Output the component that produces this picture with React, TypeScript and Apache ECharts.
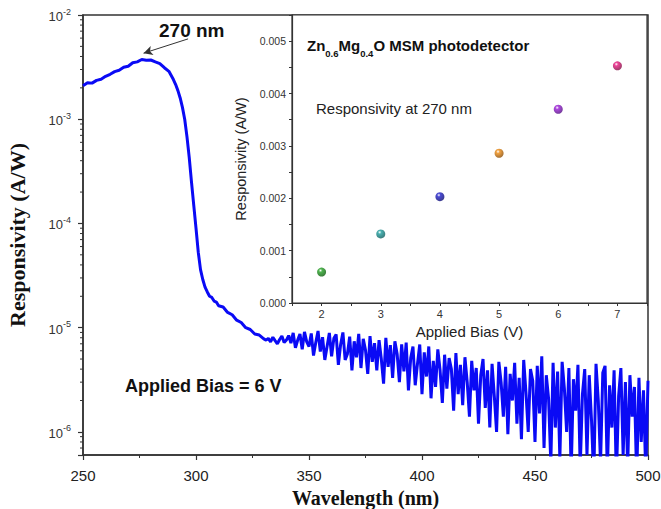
import React, { useEffect, useRef } from "react";
import * as echarts from "echarts";

// ---- Main spectrum (A/W vs nm) ----
const smoothWavelengths = [
  250, 252, 254, 256, 258, 260, 262, 264, 266, 268, 270, 272, 274, 276, 278, 280, 282, 284, 286, 288, 290,
  291, 292, 293, 294, 295, 296, 297, 298, 299, 300, 301, 302, 303, 304, 305, 306, 307, 308, 309, 310,
  312, 314, 316, 318, 320, 322, 324, 326, 328, 330,
];
const smoothResponsivity = [
  2.1e-3, 2.24e-3, 2.22e-3, 2.36e-3, 2.42e-3, 2.58e-3, 2.7e-3, 2.86e-3, 2.95e-3, 3.15e-3, 3.22e-3, 3.48e-3,
  3.55e-3, 3.74e-3, 3.68e-3, 3.7e-3, 3.55e-3, 3.42e-3, 3.12e-3, 2.88e-3, 2.4e-3,
  2.15e-3, 1.88e-3, 1.6e-3, 1.3e-3, 1.0e-3, 6.8e-4, 4.3e-4, 2.5e-4, 1.5e-4, 9.0e-5, 5.3e-5, 3.6e-5, 2.9e-5,
  2.45e-5, 2.2e-5, 2.0e-5, 1.95e-5, 1.8e-5, 1.76e-5, 1.62e-5,
  1.58e-5, 1.4e-5, 1.33e-5, 1.18e-5, 1.12e-5, 1.0e-5, 9.6e-6, 8.7e-6, 8.5e-6, 7.8e-6,
];
// noisy region: one value per nm starting at 331 nm
const noisyStartWavelength = 331;
const noisyResponsivity = [
  7.6e-6, 7.9e-6, 7.3e-6, 8.1e-6, 7.5e-6, 7.0e-6, 7.7e-6, 8.3e-6, 7.2e-6, 7.6e-6,
  8.4e-6, 7.1e-6, 8.9e-6, 6.4e-6, 7.6e-6, 8.7e-6, 6.2e-6, 9.1e-6, 7.3e-6, 6.6e-6,
  8.8e-6, 5.4e-6, 7.2e-6, 9.3e-6, 5.9e-6, 8.1e-6, 4.9e-6, 6.6e-6, 8.9e-6, 5.3e-6,
  7.9e-6, 8.6e-6, 4.4e-6, 6.9e-6, 9.0e-6, 4.9e-6, 5.6e-6, 8.2e-6, 3.9e-6, 7.4e-6,
  5.2e-6, 8.7e-6, 4.1e-6, 7.8e-6, 6.1e-6, 3.6e-6, 8.3e-6, 4.7e-6, 7.1e-6, 3.9e-6,
  7.6e-6, 5.0e-6, 2.9e-6, 8.0e-6, 4.2e-6, 6.8e-6, 3.3e-6, 7.4e-6, 5.6e-6, 3.0e-6,
  6.9e-6, 3.8e-6, 7.2e-6, 2.5e-6, 5.1e-6, 6.6e-6, 2.8e-6, 4.5e-6, 6.9e-6, 2.3e-6,
  5.8e-6, 3.4e-6, 6.6e-6, 2.1e-6, 4.8e-6, 2.7e-6, 6.2e-6, 3.9e-6, 1.9e-6, 5.5e-6,
  2.6e-6, 5.1e-6, 4.0e-6, 1.6e-6, 5.7e-6, 2.3e-6, 4.4e-6, 1.8e-6, 5.2e-6, 3.0e-6,
  1.4e-6, 4.8e-6, 2.5e-6, 4.1e-6, 1.2e-6, 3.5e-6, 5.0e-6, 1.7e-6, 3.9e-6, 1.1e-6,
  4.5e-6, 2.2e-6, 1.0e-6, 4.7e-6, 3.0e-6, 1.4e-6, 4.2e-6, 0.95e-6, 3.6e-6, 2.0e-6,
  4.6e-6, 1.2e-6, 3.3e-6, 0.85e-6, 4.9e-6, 2.4e-6, 1.0e-6, 4.0e-6, 3.1e-6, 0.8e-6,
  4.3e-6, 1.5e-6, 5.3e-6, 0.7e-6, 3.5e-6, 2.1e-6, 0.5e-6, 4.6e-6, 1.1e-6, 3.8e-6,
  0.55e-6, 4.7e-6, 2.6e-6, 1.0e-6, 4.1e-6, 0.4e-6, 3.2e-6, 1.6e-6, 4.4e-6, 0.45e-6,
  2.3e-6, 4.0e-6, 0.6e-6, 3.5e-6, 1.3e-6, 0.35e-6, 4.5e-6, 2.0e-6, 0.5e-6, 3.7e-6,
  4.3e-6, 0.4e-6, 2.8e-6, 1.1e-6, 3.9e-6, 0.35e-6, 2.2e-6, 4.1e-6, 0.6e-6, 3.0e-6,
  0.45e-6, 3.5e-6, 1.4e-6, 2.7e-6, 0.35e-6, 3.3e-6, 0.8e-6, 2.5e-6, 0.4e-6, 3.1e-6,
];
const logMinorTicks = [
  7e-7, 8e-7, 9e-7,
  2e-6, 3e-6, 4e-6, 5e-6, 6e-6, 7e-6, 8e-6, 9e-6,
  2e-5, 3e-5, 4e-5, 5e-5, 6e-5, 7e-5, 8e-5, 9e-5,
  2e-4, 3e-4, 4e-4, 5e-4, 6e-4, 7e-4, 8e-4, 9e-4,
  2e-3, 3e-3, 4e-3, 5e-3, 6e-3, 7e-3, 8e-3, 9e-3,
];

// ---- Inset: responsivity at 270 nm vs bias ----
const biasVoltages = [2, 3, 4, 5, 6, 7];
const biasResponsivity = [0.00059, 0.00132, 0.00203, 0.00286, 0.0037, 0.00453];
const biasColors = ["#22a022", "#1a9c9c", "#1c1cc8", "#ee8a10", "#9a1ad6", "#e8167e"];
const biasShades = ["#0a5a0a", "#0a5a5a", "#0a0a70", "#8a4a00", "#500a80", "#800a40"];

const SANS = '"Liberation Sans", Arial, sans-serif';
const SERIF = '"Liberation Serif", "Times New Roman", serif';
const AX = "#333";

export default function App() {
  const ref = useRef<HTMLDivElement>(null);
  useEffect(() => {
    if (!ref.current) return;
    const chart = echarts.init(ref.current, null, { renderer: "svg" });

    const spectrum: [number, number][] = [];
    smoothWavelengths.forEach((w, i) => spectrum.push([w, smoothResponsivity[i]]));
    noisyResponsivity.forEach((r, i) => spectrum.push([noisyStartWavelength + i, r]));

    const isPow10 = (v: number) => {
      const l = Math.log10(v);
      return Math.abs(l - Math.round(l)) < 1e-6;
    };

    chart.setOption({
      animation: false,
      backgroundColor: "#fff",
      grid: [
        { left: 83, right: 13, top: 15, bottom: 54, show: true, borderColor: AX, borderWidth: 1.5, outerBoundsMode: "none", containLabel: false },
        { left: 292, right: 14, top: 15, height: 288, show: true, borderColor: AX, borderWidth: 1.2, backgroundColor: "#fff", outerBoundsMode: "none", containLabel: false },
      ],
      xAxis: [
        {
          gridIndex: 0,
          type: "value",
          min: 250,
          max: 500,
          interval: 50,
          axisLine: { show: true, lineStyle: { color: AX, width: 1.5 } },
          axisTick: { show: true, length: 5, lineStyle: { color: AX, width: 1.2 } },
          minorTick: { show: true, splitNumber: 2, length: 3, lineStyle: { color: AX } },
          splitLine: { show: false },
          axisLabel: { fontSize: 15, color: "#222", fontFamily: SANS, margin: 13 },
          name: "Wavelength (nm)",
          nameLocation: "middle",
          nameGap: 28,
          nameTextStyle: { fontFamily: SERIF, fontWeight: "bold", fontSize: 20, color: "#111", lineHeight: 20 },
        },
        {
          gridIndex: 1,
          type: "value",
          min: 1.5,
          max: 7.5,
          interval: 0.5,
          axisLine: { show: true, lineStyle: { color: AX, width: 1.2 } },
          axisTick: { show: true, length: 3, lineStyle: { color: AX } },
          splitLine: { show: false },
          axisLabel: {
            fontSize: 11,
            color: "#333",
            fontFamily: SANS,
            margin: 5,
            formatter: (v: number) => (Math.abs(v - Math.round(v)) < 1e-9 ? String(Math.round(v)) : ""),
          },
          name: "Applied Bias (V)",
          nameLocation: "middle",
          nameGap: 21,
          nameTextStyle: { fontFamily: SANS, fontSize: 15, color: "#222" },
        },
      ],
      yAxis: [
        {
          gridIndex: 0,
          type: "log",
          logBase: 10,
          min: 6e-7,
          max: 1e-2,
          axisLine: { show: true, lineStyle: { color: AX, width: 1.5 } },
          axisTick: { show: true, length: 5, lineStyle: { color: AX, width: 1.2 } },
          splitLine: { show: false },
          axisLabel: {
            margin: 12,
            color: "#333",
            formatter: (v: number) => (isPow10(v) ? `{b|10}{s|${Math.round(Math.log10(v))}}` : ""),
            rich: {
              b: { fontSize: 13, fontFamily: SANS, color: "#333", lineHeight: 16, verticalAlign: "bottom" },
              s: { fontSize: 9, fontFamily: SANS, color: "#333", lineHeight: 10, verticalAlign: "top" },
            },
          },
          name: "Responsivity (A/W)",
          nameLocation: "middle",
          nameGap: 55,
          nameTextStyle: { fontFamily: SERIF, fontWeight: "bold", fontSize: 22, color: "#111" },
        },
        {
          gridIndex: 1,
          type: "value",
          min: 0,
          max: 0.0055,
          interval: 0.0005,
          axisLine: { show: true, lineStyle: { color: AX, width: 1.2 } },
          axisTick: { show: true, length: 3, lineStyle: { color: AX } },
          splitLine: { show: false },
          axisLabel: {
            fontSize: 10.5,
            color: "#333",
            fontFamily: SANS,
            margin: 6,
            formatter: (v: number) => {
              const k = Math.round(v * 1000);
              return Math.abs(v * 1000 - k) < 1e-6 && k <= 5 ? (k / 1000).toFixed(3) : "";
            },
          },
          name: "Responsivity (A/W)",
          nameLocation: "middle",
          nameGap: 44,
          nameTextStyle: { fontFamily: SANS, fontSize: 14.5, color: "#222" },
        },
      ],
      series: [
        {
          type: "line",
          xAxisIndex: 0,
          yAxisIndex: 0,
          data: spectrum,
          showSymbol: false,
          symbol: "none",
          clip: true,
          lineStyle: { color: "#0a0af5", width: 3 },
          z: 3,
          markLine: {
            silent: true,
            symbol: ["none", "arrow"],
            symbolSize: [7, 9],
            label: { show: false },
            lineStyle: { color: "#333", width: 1, type: "solid" },
            data: [[{ coord: [296.5, 5.9e-3] }, { coord: [276.8, 4.3e-3] }]],
          },
        },
        {
          type: "custom",
          xAxisIndex: 0,
          yAxisIndex: 0,
          silent: true,
          data: logMinorTicks.map((v) => [250, v]),
          renderItem: (params: any, api: any) => {
            const p = api.coord([api.value(0), api.value(1)]);
            return {
              type: "line",
              shape: { x1: p[0] - 3, y1: p[1], x2: p[0], y2: p[1] },
              style: { stroke: AX, lineWidth: 1 },
            };
          },
          z: 4,
        },
        {
          type: "scatter",
          xAxisIndex: 1,
          yAxisIndex: 1,
          symbolSize: 9,
          z: 5,
          data: biasVoltages.map((b, i) => ({
            value: [b, biasResponsivity[i]],
            itemStyle: {
              color: new echarts.graphic.RadialGradient(0.38, 0.32, 0.7, [
                { offset: 0, color: "#ffffff" },
                { offset: 0.28, color: biasColors[i] },
                { offset: 1, color: biasShades[i] },
              ]),
            },
          })),
        },
      ],
      graphic: [
        {
          type: "text",
          left: 159,
          top: 21,
          z: 10,
          style: { text: "270 nm", font: `bold 19px ${SANS}`, fill: "#111" },
        },
        {
          type: "text",
          left: 125,
          top: 377,
          z: 10,
          style: { text: "Applied Bias = 6 V", font: `bold 18px ${SANS}`, fill: "#111" },
        },
        {
          type: "text",
          left: 307,
          top: 38,
          z: 10,
          style: {
            text: "{m|Zn}{s|0.6}{m|Mg}{s|0.4}{m|O MSM photodetector}",
            rich: {
              m: { fontFamily: SANS, fontWeight: "bold", fontSize: 15, fill: "#111", lineHeight: 20, verticalAlign: "top" },
              s: { fontFamily: SANS, fontWeight: "bold", fontSize: 9.5, fill: "#111", lineHeight: 10, verticalAlign: "bottom" },
            },
          },
        },
        {
          type: "text",
          left: 316,
          top: 101,
          z: 10,
          style: { text: "Responsivity at 270 nm", font: `15px ${SANS}`, fill: "#222" },
        },
      ],
    });
    return () => chart.dispose();
  }, []);
  return <div ref={ref} style={{ position: "fixed", left: 0, top: 0, width: 661, height: 509 }} />;
}
